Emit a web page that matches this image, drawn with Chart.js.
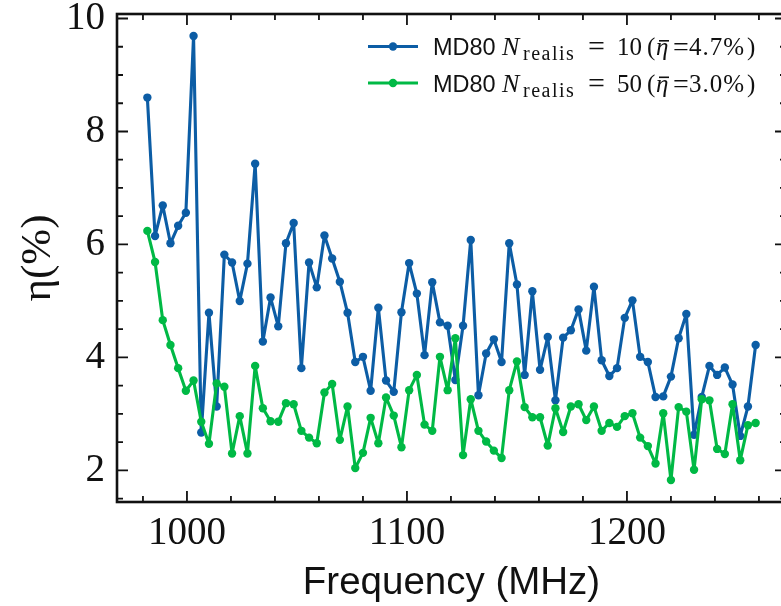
<!DOCTYPE html>
<html>
<head>
<meta charset="utf-8">
<script src="https://cdn.jsdelivr.net/npm/chart.js@4.4.0/dist/chart.umd.min.js"></script>
<style>
  html, body { margin: 0; padding: 0; background: #fff; overflow: hidden; }
  canvas { display: block; }
</style>
</head>
<body>
<canvas id="myChart" width="792" height="606"></canvas>
<script>

// frequency channels (MHz)
var freqs = [982, 985.5, 989, 992.5, 996, 999.5, 1003, 1006.5, 1010, 1013.5,
  1017, 1020.5, 1024, 1027.5, 1031, 1034.5, 1038, 1041.5, 1045, 1048.5,
  1052, 1055.5, 1059, 1062.5, 1066, 1069.5, 1073, 1076.5, 1080, 1083.5,
  1087, 1090.5, 1094, 1097.5, 1101, 1104.5, 1108, 1111.5, 1115, 1118.5,
  1122, 1125.5, 1129, 1132.5, 1136, 1139.5, 1143, 1146.5, 1150, 1153.5,
  1157, 1160.5, 1164, 1167.5, 1171, 1174.5, 1178, 1181.5, 1185, 1188.5,
  1192, 1195.5, 1199, 1202.5, 1206, 1209.5, 1213, 1216.5, 1220, 1223.5,
  1227, 1230.5, 1234, 1237.5, 1241, 1244.5, 1248, 1251.5, 1255, 1258.5];

// eta (%) for N_realis = 10
var eta10 = [8.60, 6.15, 6.69, 6.02, 6.33, 6.56, 9.69, 2.67, 4.79, 3.13,
  5.82, 5.68, 5.00, 5.66, 7.43, 4.28, 5.06, 4.55, 6.02, 6.38,
  3.81, 5.68, 5.24, 6.16, 5.75, 5.34, 4.79, 3.92, 4.01, 3.41,
  4.88, 3.59, 3.39, 4.80, 5.67, 5.13, 4.04, 5.33, 4.62, 4.56,
  3.60, 4.56, 6.08, 3.33, 4.07, 4.32, 3.92, 6.02, 5.29, 3.69,
  5.17, 3.78, 4.36, 3.24, 4.35, 4.48, 4.85, 4.12, 5.25, 3.95,
  3.67, 3.81, 4.70, 5.01, 4.01, 3.92, 3.30, 3.31, 3.66, 4.34,
  4.77, 2.63, 3.30, 3.85, 3.69, 3.82, 3.52, 2.61, 3.13, 4.22];

// eta (%) for N_realis = 50
var eta50 = [6.24, 5.69, 4.66, 4.22, 3.81, 3.41, 3.59, 2.86, 2.47, 3.54,
  3.48, 2.30, 2.96, 2.30, 3.85, 3.10, 2.87, 2.86, 3.19, 3.17,
  2.70, 2.58, 2.48, 3.38, 3.53, 2.54, 3.13, 2.04, 2.31, 2.93,
  2.48, 3.29, 2.97, 2.41, 3.42, 3.69, 2.81, 2.70, 4.01, 3.42,
  4.34, 2.27, 3.26, 2.70, 2.51, 2.35, 2.22, 3.42, 3.93, 3.12,
  2.94, 2.94, 2.44, 3.10, 2.68, 3.13, 3.17, 2.89, 3.13, 2.70,
  2.84, 2.77, 2.96, 3.01, 2.58, 2.43, 2.12, 3.01, 1.83, 3.12,
  3.04, 2.01, 3.26, 3.24, 2.38, 2.29, 3.17, 2.18, 2.80, 2.84];

var xTicks = [1000, 1100, 1200];
var yTicks = [2, 4, 6, 8, 10];

var seriesName = ['MD80', 'MD80'];
var nRealis = ['10', '50'];
var etaMean = ['4.7', '3.0'];
var colors = ['#0C5DA5', '#00B945'];

var serif = '"Liberation Serif", "DejaVu Serif", serif';
var sans = '"Liberation Sans", "DejaVu Sans", sans-serif';
var ink = '#111';

function points(ys) {
  return freqs.map(function (f, i) { return {x: f, y: ys[i]}; });
}

function lineSet(label, ys, color, order) {
  return {
    label: label,
    data: points(ys),
    borderColor: color,
    backgroundColor: color,
    borderWidth: 3.1,
    borderJoinStyle: 'round',
    borderCapStyle: 'round',
    pointRadius: 4.2,
    pointBorderWidth: 0,
    pointHoverRadius: 4.2,
    tension: 0,
    order: order
  };
}

// spines + inward ticks on all four sides, matplotlib style
var axesFrame = {
  id: 'axesFrame',
  afterDatasetsDraw: function (chart) {
    var ctx = chart.ctx, a = chart.chartArea;
    var xs = chart.scales.x, ys = chart.scales.y;
    ctx.save();
    ctx.strokeStyle = ink;
    ctx.lineWidth = 1.8;
    ctx.beginPath();
    for (var k = 49; k <= 63; k++) {
      var v = k * 20, p = xs.getPixelForValue(v);
      var len = (v % 100 === 0) ? 11 : 6;
      ctx.moveTo(p, a.bottom); ctx.lineTo(p, a.bottom - len);
      ctx.moveTo(p, a.top); ctx.lineTo(p, a.top + len);
    }
    for (var j = 3; j <= 20; j++) {
      var w = j * 0.5, q = ys.getPixelForValue(w);
      var l2 = (j % 4 === 0) ? 11 : 6;
      ctx.moveTo(a.left, q); ctx.lineTo(a.left + l2, q);
      ctx.moveTo(a.right, q); ctx.lineTo(a.right - l2, q);
    }
    ctx.stroke();
    ctx.lineWidth = 2.6;
    ctx.strokeRect(a.left, a.top, a.right - a.left, a.bottom - a.top);
    ctx.restore();
  }
};

// legend with the mathtext-like label, upper right, no frame
var mathLegend = {
  id: 'mathLegend',
  afterDraw: function (chart) {
    var ctx = chart.ctx;
    var sx = 368, tx = 433;
    var rows = [55, 91.5];
    ctx.save();
    ctx.textBaseline = 'alphabetic';
    ctx.textAlign = 'left';
    chart.data.datasets.forEach(function (ds, i) {
      var by = rows[i], cy = by - 8.5;
      ctx.strokeStyle = ds.borderColor;
      ctx.fillStyle = ds.borderColor;
      ctx.lineWidth = ds.borderWidth;
      ctx.beginPath();
      ctx.moveTo(sx, cy); ctx.lineTo(sx + 50, cy);
      ctx.stroke();
      ctx.beginPath();
      ctx.arc(sx + 25, cy, ds.pointRadius, 0, Math.PI * 2);
      ctx.fill();

      ctx.fillStyle = ink;
      ctx.letterSpacing = '0px';
      ctx.font = '23.5px ' + sans;
      ctx.fillText(seriesName[i], tx, by);
      ctx.font = 'italic 26px ' + serif;
      ctx.fillText('N', tx + 69, by);
      ctx.font = '20px ' + serif;
      ctx.letterSpacing = '1.5px';
      ctx.fillText('realis', tx + 90, by + 5);
      ctx.letterSpacing = '0px';
      ctx.font = '30px ' + serif;
      ctx.fillText('=', tx + 155, by + 1);
      ctx.font = '25px ' + serif;
      ctx.fillText(nRealis[i], tx + 184, by);
      ctx.fillText('(', tx + 214, by);
      ctx.font = 'italic 25px ' + serif;
      ctx.fillText('\u03b7', tx + 223, by);
      ctx.fillRect(tx + 226, by - 15, 10, 1.6);
      ctx.font = '28px ' + serif;
      ctx.fillText('=', tx + 240, by + 1);
      ctx.font = '25px ' + serif;
      ctx.letterSpacing = '1px';
      ctx.fillText(etaMean[i] + '%', tx + 256, by);
      ctx.letterSpacing = '0px';
      ctx.fillText(')', tx + 314, by);
    });
    ctx.restore();
  }
};

var ctx = document.getElementById('myChart').getContext('2d');

var chart = new Chart(ctx, {
  type: 'line',
  data: {
    datasets: [
      lineSet('MD80 N_realis = 10 (eta = 4.7%)', eta10, colors[0], 1),
      lineSet('MD80 N_realis = 50 (eta = 3.0%)', eta50, colors[1], 0)
    ]
  },
  options: {
    responsive: false,
    animation: false,
    devicePixelRatio: 1,
    layout: { padding: { top: 14, right: 6, left: 0, bottom: 0 } },
    plugins: {
      legend: { display: false },
      tooltip: { enabled: false }
    },
    scales: {
      x: {
        type: 'linear',
        min: 968.2,
        max: 1272.3,
        grid: { display: false, drawTicks: false },
        border: { display: false },
        afterBuildTicks: function (s) { s.ticks = xTicks.map(function (v) { return {value: v}; }); },
        afterFit: function (s) { s.height = 104; s.paddingLeft = 0; s.paddingRight = 0; },
        ticks: {
          padding: 8,
          color: ink,
          maxRotation: 0,
          font: { family: serif, size: 39, lineHeight: 1.2 },
          callback: function (v) { return String(v); }
        },
        title: {
          display: true,
          text: 'Frequency (MHz)',
          color: ink,
          font: { family: sans, size: 38.5, lineHeight: 1 },
          padding: { top: 0, bottom: 3.5 }
        }
      },
      y: {
        type: 'linear',
        min: 1.44,
        max: 10.08,
        grid: { display: false, drawTicks: false },
        border: { display: false },
        afterBuildTicks: function (s) { s.ticks = yTicks.map(function (v) { return {value: v}; }); },
        afterFit: function (s) { s.width = 117; s.paddingTop = 0; s.paddingBottom = 0; },
        ticks: {
          padding: 12,
          color: ink,
          font: { family: serif, size: 39, lineHeight: 1.2 },
          callback: function (v) { return String(v); }
        },
        title: {
          display: true,
          text: '\u03b7(%)',
          color: ink,
          font: { family: serif, size: 43, lineHeight: 1.2 },
          padding: { top: 13, bottom: 0 }
        }
      }
    }
  },
  plugins: [axesFrame, mathLegend]
});

</script>
</body>
</html>
